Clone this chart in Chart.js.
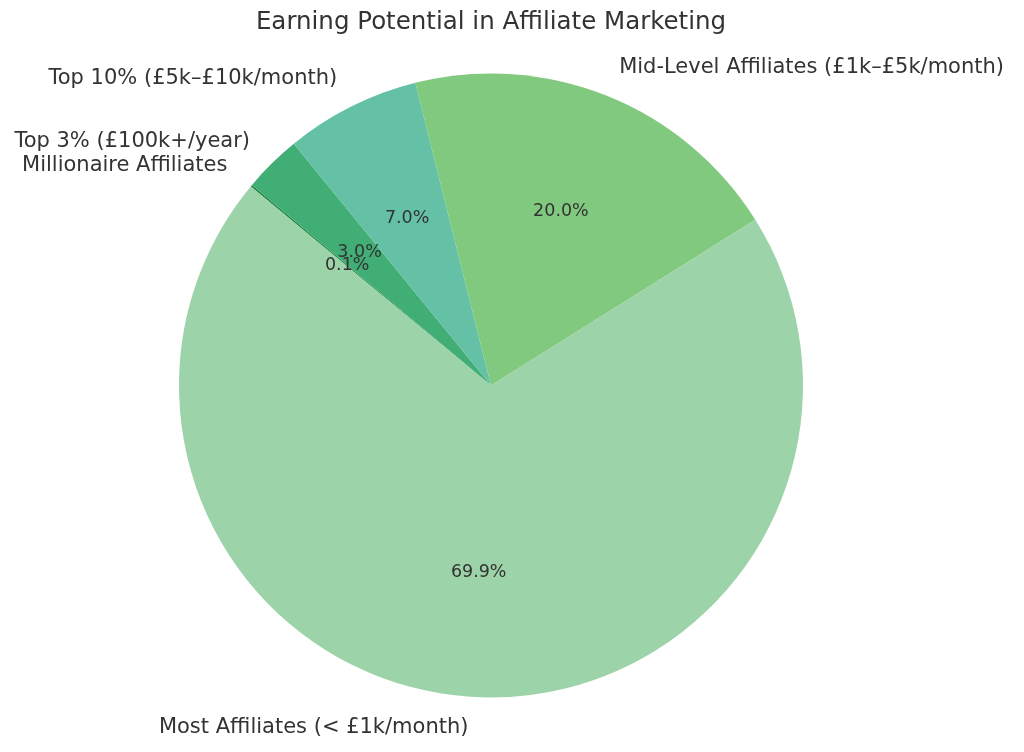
<!DOCTYPE html>
<html><head><meta charset="utf-8">
<script src="https://cdn.jsdelivr.net/npm/chart.js"></script>
<style>html,body{margin:0;padding:0;background:#fff}#w{width:1024px;height:752px}</style>
</head><body><div id="w"><canvas id="c"></canvas></div>
<script>
// counter-clockwise order in original: Most, Mid, Top10, Top3, Millionaire (start 140°)
const categories = ["Millionaire Affiliates","Top 3% (£100k+/year)","Top 10% (£5k–£10k/month)","Mid-Level Affiliates (£1k–£5k/month)","Most Affiliates (< £1k/month)"];
const values = [0.1, 3, 7, 20, 70];
const colors = ["#238b45","#41ae75","#64c1a5","#80c97f","#9dd3a8"];
const total = values.reduce((a,b)=>a+b,0);
const startCompass = 90 - (140 + 360*values[0]/total);

const labelPlugin = {
  id:'labels',
  afterDraw(chart){
    const ctx = chart.ctx;
    ctx.save();
    ctx.fillStyle = '#333';
    ctx.font = '24.5px "DejaVu Sans"';
    ctx.textAlign = 'center'; ctx.textBaseline = 'middle';
    ctx.fillText('Earning Potential in Affiliate Marketing', 491, 23);
    const arcs = chart.getDatasetMeta(0).data;
    arcs.forEach((arc,i)=>{
      const a = (arc.startAngle + arc.endAngle)/2;
      const r = arc.outerRadius, cx = arc.x, cy = arc.y;
      const ca = Math.cos(a), sa = Math.sin(a);
      ctx.font = '21px "DejaVu Sans"';
      ctx.textAlign = ca >= 0 ? 'left' : 'right';
      ctx.textBaseline = 'middle';
      ctx.fillText(categories[i], cx + 1.1*r*ca, cy + 1.1*r*sa);
      ctx.font = '17.5px "DejaVu Sans"';
      ctx.textAlign = 'center';
      ctx.fillText((values[i]/total*100).toFixed(1)+'%', cx + 0.6*r*ca, cy + 0.6*r*sa);
    });
    ctx.restore();
  }
};

new Chart(document.getElementById('c'), {
  type:'pie',
  data:{labels:categories, datasets:[{data:values, backgroundColor:colors, borderWidth:0}]},
  options:{
    responsive:true, maintainAspectRatio:false, animation:false,
    rotation:startCompass,
    layout:{padding:{top:73,bottom:54,left:179,right:221}},
    plugins:{legend:{display:false},tooltip:{enabled:false}}
  },
  plugins:[labelPlugin]
});
</script></body></html>
